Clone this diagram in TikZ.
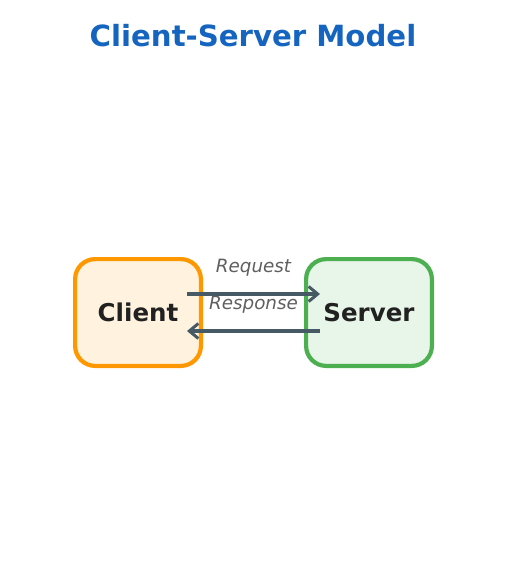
\documentclass[tikz,border=0pt]{standalone}
\usepackage{fontspec}
\setmainfont{DejaVu Sans}
\usetikzlibrary{arrows.meta,positioning}

\definecolor{titleblue}{HTML}{1565C0}
\definecolor{clientline}{HTML}{FF9800}
\definecolor{clientfill}{HTML}{FFF3E0}
\definecolor{serverline}{HTML}{4CAF50}
\definecolor{serverfill}{HTML}{E8F5E9}
\definecolor{arrowgray}{HTML}{455A64}
\definecolor{labelgray}{HTML}{5F5F5F}
\definecolor{textdark}{HTML}{212121}

\tikzset{
  box/.style={draw,line width=4.2pt,rounded corners=20pt,minimum width=125.8pt,minimum height=106.8pt,
    font=\fontsize{24.5}{28}\selectfont\bfseries,text=textdark},
  msg/.style={draw=arrowgray,line width=3.4pt,-{Straight Barb[length=9pt,width=15pt,line width=3pt]}},
  msglabel/.style={font=\fontsize{18.3}{22}\selectfont\itshape,text=labelgray}
}

\begin{document}
\begin{tikzpicture}[x=1pt,y=-1pt]
\useasboundingbox (0,0) rectangle (506,566);

    \node[font=\fontsize{29.2}{34}\selectfont\bfseries,text=titleblue] (title) at (253,36) {Client-Server Model};

    \node[box,draw=clientline,fill=clientfill] (client) at (138,312.5) {Client};
    \node[box,draw=serverline,fill=serverfill] (server) at (369,312.5) {Server};

    \draw[msg] ([xshift=-16pt,yshift=18.5pt]client.east) -- node[msglabel,above=13pt] (req) {Request} ([xshift=16pt,yshift=18.5pt]server.west);
    \draw[msg] ([xshift=16pt,yshift=-18.5pt]server.west) -- node[msglabel,above=13pt] (resp) {Response} ([xshift=-16pt,yshift=-18.5pt]client.east);

\end{tikzpicture}
\end{document}
